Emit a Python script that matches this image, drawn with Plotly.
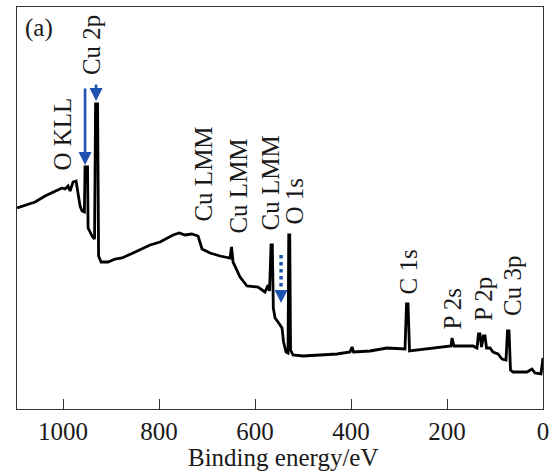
import plotly.graph_objects as go

# Survey XPS spectrum: binding energy (eV) and intensity (a.u.)
binding_energy = [
    1095.8, 1079.2, 1058.3, 1037.5, 1016.7, 1002.1, 995.8, 989.6, 985.4, 979.2,
    972.9, 968.8, 964.6, 960.4, 955.6, 954.2, 949.0, 947.9, 943.75, 939.6,
    934.4, 932.3, 928.1, 926.0, 920.8, 906.25, 891.7, 877.1, 854.2, 818.75,
    797.9, 770.8, 758.0, 745.8, 732.0, 718.75, 710.4, 693.75, 672.9, 652.1,
    649.0, 645.8, 631.25, 616.7, 593.75, 579.2, 572.9, 569.8, 566.7, 564.0,
    561.9, 558.3, 552.1, 543.75, 540.6, 535.4, 531.25, 529.8, 527.7, 526.0,
    520.8, 500.0, 464.6, 429.2, 402.1, 397.9, 394.8, 360.4, 325.0, 297.9,
    287.5, 284.4, 281.25, 278.1, 241.7, 200.0, 191.7, 189.6, 185.4, 158.3,
    145.8, 137.5, 134.4, 131.25, 128.1, 124.0, 120.8, 117.7, 110.4, 104.2,
    93.75, 85.4, 77.1, 74.0, 70.8, 67.7, 62.5, 33.3, 22.9, 16.7,
    4.2, 0.0,
]
intensity = [
    201, 204, 207, 213, 218, 221, 220, 223, 218, 227,
    228, 215, 203, 198, 197, 242, 242, 181, 177, 173,
    170, 305, 305, 153, 147, 147, 150, 151, 156, 164,
    167, 174, 176, 174, 175, 173, 160, 156, 153, 151,
    162, 147, 132, 123, 122, 117, 124, 118, 164, 164,
    101, 91, 87, 81, 67, 57, 56, 174, 174, 59,
    54, 53, 54, 55, 57, 62, 57, 58, 61, 60,
    60, 105, 105, 58, 60, 62, 63, 71, 63, 63,
    63, 61, 75, 75, 62, 73, 73, 61, 61, 57,
    55, 50, 49, 78, 78, 39, 37, 37, 40, 36,
    35, 51,
]

# Peak assignments: label, energy of label centre, intensity at label base
peak_labels = ["Cu 2p", "O KLL", "Cu LMM", "Cu LMM", "Cu LMM", "O 1s",
               "C 1s", "P 2s", "P 2p", "Cu 3p"]
label_energy = [941.7, 1002.0, 708.3, 635.4, 568.75, 518.75,
                281.25, 189.6, 125.0, 64.6]
label_base = [332, 236, 185, 173, 176, 182, 112, 77, 86, 91]

x_ticks = [1000, 800, 600, 400, 200, 0]

SERIF = "Times New Roman"
BLUE = "#1f52b0"
INK = "#1a1a1a"
FS = 25

fig = go.Figure()
fig.add_trace(go.Scatter(
    x=binding_energy, y=intensity, mode="lines",
    line=dict(color="black", width=2.8),
    hoverinfo="skip", showlegend=False,
))

annotations = []
for text, e, base in zip(peak_labels, label_energy, label_base):
    annotations.append(dict(
        x=e, y=base, xref="x", yref="y", text=text, textangle=-90,
        showarrow=False, xanchor="center", yanchor="bottom",
        font=dict(family=SERIF, size=FS, color=INK),
    ))

# Panel letter
annotations.append(dict(
    x=1050, y=381, xref="x", yref="y", text="(a)", showarrow=False,
    xanchor="center", yanchor="middle",
    font=dict(family=SERIF, size=FS, color=INK),
))

# Solid arrows pointing to the Cu 2p satellite and main peaks
for xe, tip, tail in [(954.2, 244, 322), (931.25, 308, 326)]:
    annotations.append(dict(
        x=xe, y=tip, ax=xe, ay=tail, xref="x", yref="y", axref="x", ayref="y",
        text="", showarrow=True, arrowhead=2, arrowsize=1.0, arrowwidth=2.6,
        arrowcolor=BLUE,
    ))

# Head of the dotted arrow near O 1s
annotations.append(dict(
    x=545.8, y=106, ax=545.8, ay=116, xref="x", yref="y", axref="x", ayref="y",
    text="", showarrow=True, arrowhead=2, arrowsize=1.0, arrowwidth=2.6,
    arrowcolor=BLUE,
))

# Axis title
annotations.append(dict(
    x=0.505, y=-0.082, xref="paper", yref="paper", text="Binding energy/eV",
    showarrow=False, xanchor="center", yanchor="top",
    font=dict(family=SERIF, size=FS, color=INK),
))

shapes = [dict(
    type="line", xref="x", yref="y", x0=545.8, x1=545.8, y0=154, y1=114,
    line=dict(color=BLUE, width=3.5, dash="dot"),
)]

fig.update_layout(
    width=558, height=475,
    margin=dict(l=17, r=15, t=7, b=66),
    paper_bgcolor="white", plot_bgcolor="white",
    annotations=annotations, shapes=shapes,
    showlegend=False,
)
fig.update_xaxes(
    range=[1096, 0], tickvals=x_ticks, ticktext=[str(v) for v in x_ticks],
    ticks="inside", ticklen=10, tickwidth=1.2, tickcolor="#333",
    showline=True, linecolor="#333", linewidth=1.2, mirror=True,
    showgrid=False, zeroline=False,
    tickfont=dict(family=SERIF, size=FS, color=INK),
)
fig.update_yaxes(
    range=[0, 402], showticklabels=False, ticks="",
    showline=True, linecolor="#333", linewidth=1.2, mirror=True,
    showgrid=False, zeroline=False,
)

fig.write_html("out.html")
